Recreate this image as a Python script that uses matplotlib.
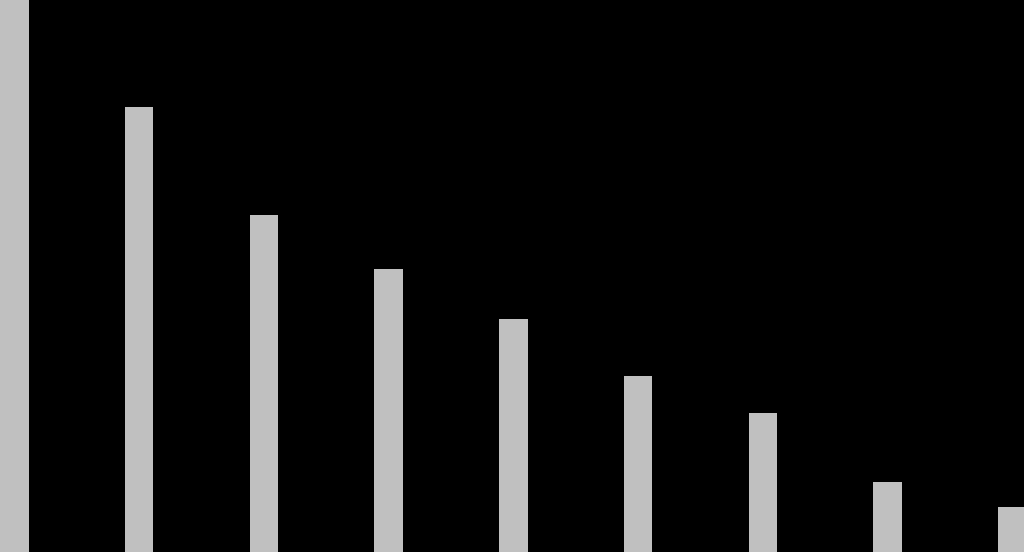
import matplotlib
matplotlib.use("Agg")
import matplotlib.pyplot as plt
import numpy as np

# bar heights (full height = 552 px)
positions = np.arange(9)
values = [552, 445, 337, 283, 233, 176, 139, 70, 45]

w = 0.2285
fig = plt.figure(figsize=(10.24, 5.52), dpi=100, facecolor="black")
ax = fig.add_axes([0, 0, 1, 1], facecolor="black")
ax.bar(positions, values, width=w, color="#c0c0c0")
left = -w / 2
ax.set_xlim(left, left + 1024 / 124.75)
ax.set_ylim(0, 552)
ax.axis("off")
fig.savefig("out.png", dpi=100, facecolor="black")
